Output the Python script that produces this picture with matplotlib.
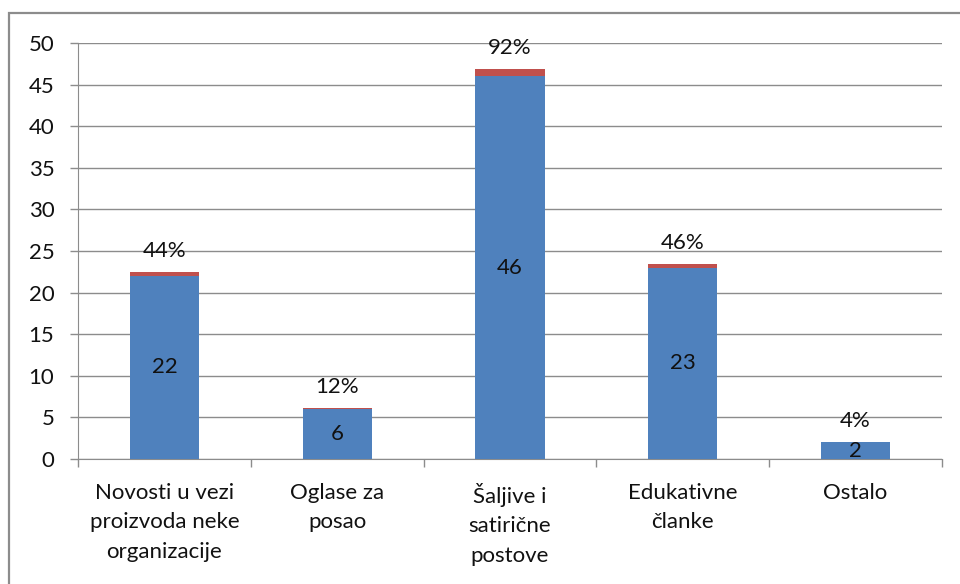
import numpy as np
import matplotlib.pyplot as plt
from matplotlib.patches import Rectangle

categories = ["Novosti u vezi\nproizvoda neke\norganizacije", "Oglase za\nposao",
              "Šaljive i\nsatirične\npostove", "Edukativne\nčlanke", "Ostalo"]
counts = [22, 6, 46, 23, 2]
shares = [0.44, 0.12, 0.92, 0.46, 0.04]
share_labels = ["44%", "12%", "92%", "46%", "4%"]
yticks = [0, 5, 10, 15, 20, 25, 30, 35, 40, 45, 50]

plt.rcParams["font.family"] = ["Lato", "DejaVu Sans"]
grey = "#8c8c8c"
blue = "#4F81BD"
red = "#C0504D"
fs = 16

fig = plt.figure(figsize=(9.6, 5.84), dpi=100)
fig.patches.append(Rectangle((9 / 960, -0.1), 1.2, 1 - 13 / 584 + 0.1,
                             transform=fig.transFigure, fill=False,
                             edgecolor=grey, linewidth=1.6))
ax = fig.add_axes([78 / 960, 125 / 584, 864 / 960, 416 / 584])

x = np.arange(len(categories))
ax.bar(x, counts, width=0.4, color=blue, zorder=3)
ax.bar(x, shares, width=0.4, bottom=counts, color=red, zorder=3)

for xi, c, s, lab in zip(x, counts, shares, share_labels):
    ax.text(xi, c / 2, str(c), ha="center", va="center", fontsize=fs,
            color="#111111", zorder=4)
    ax.annotate(lab, (xi, c + s), xytext=(0, 21), textcoords="offset pixels",
                ha="center", va="center", fontsize=fs, color="#111111")

ax.set_xlim(-0.5, len(categories) - 0.5)
ax.set_ylim(0, 50)
ax.set_yticks(yticks)
ax.yaxis.grid(True, color=grey, linewidth=1)
ax.set_axisbelow(True)
ax.tick_params(axis="y", length=6, width=1, color=grey, pad=11,
               labelsize=fs, labelcolor="#111111")

ax.set_xticks(x)
ax.set_xticklabels(categories, fontsize=fs, color="#111111", linespacing=1.6)
ax.set_xticks(np.arange(len(categories) + 1) - 0.5, minor=True)
ax.tick_params(axis="x", which="major", length=0, pad=17)
ax.tick_params(axis="x", which="minor", length=6, width=1, color=grey)

for side in ["top", "right"]:
    ax.spines[side].set_visible(False)
for side in ["left", "bottom"]:
    ax.spines[side].set_color(grey)

fig.savefig("out.png", dpi=100)
